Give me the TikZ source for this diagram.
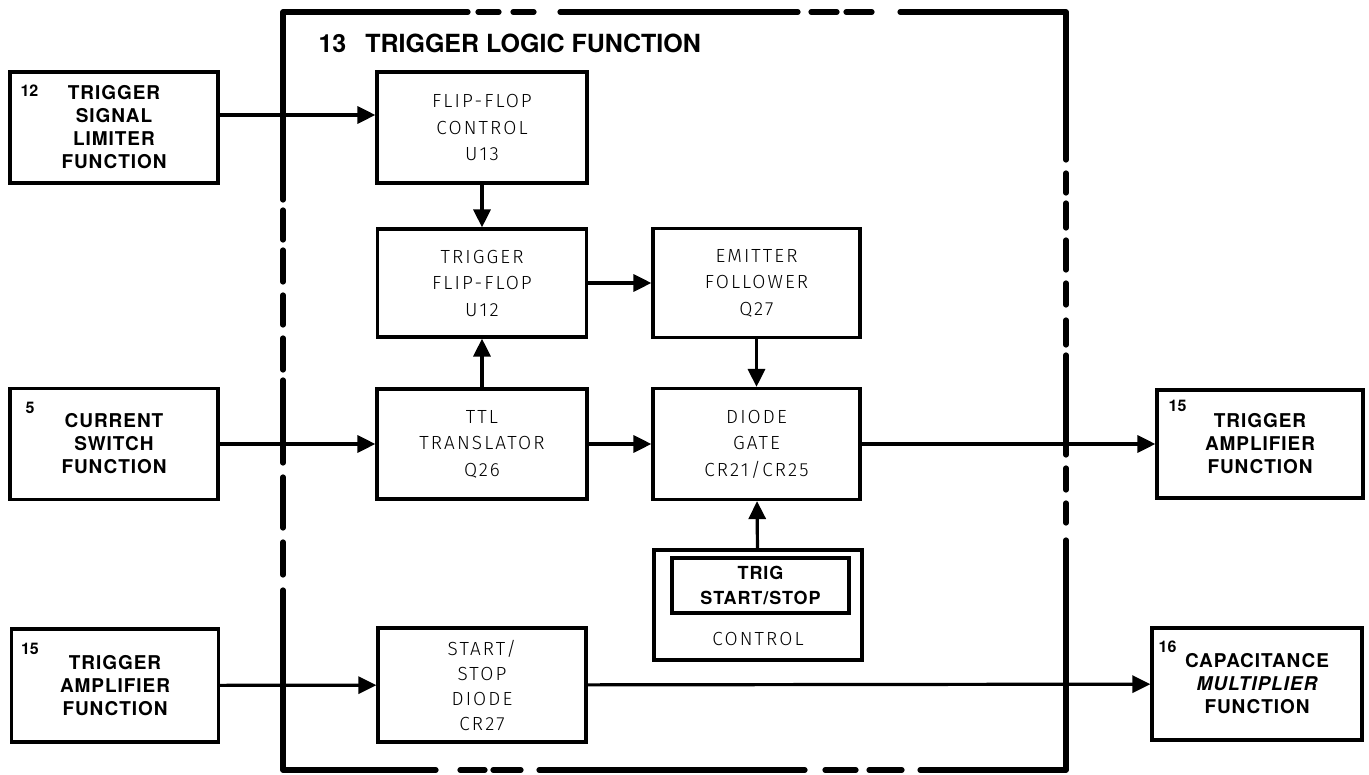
\documentclass[tikz,border=0pt]{standalone}
\usepackage{fontspec}
\usetikzlibrary{arrows.meta}
\newfontfamily\fnfont{TeX Gyre Heros}[LetterSpace=5]
\newfontfamily\titlefont{TeX Gyre Heros}
\newfontfamily\blkfont{Fira Sans Light}[LetterSpace=11]

\tikzset{
	fnbox/.style={draw, line width=3.2pt, align=center, inner sep=0pt,
		font=\fnfont\bfseries\fontsize{19}{23}\selectfont},
	blk/.style={draw, line width=3.2pt, align=center, inner sep=0pt,
		font=\blkfont\fontsize{19}{26.5}\selectfont},
	num/.style={anchor=north west, inner sep=0pt, font=\titlefont\bfseries\fontsize{16}{16}\selectfont},
	conn/.style={line width=3.2pt, -{Triangle[length=18pt,width=17pt]}},
	frame/.style={line width=5.2pt, line cap=round, line join=round}
}

\begin{document}
\begin{tikzpicture}[x=1pt, y=-1pt]
			%%%%% START %%%%%
			\useasboundingbox (0,0) rectangle (1369,775);
			
			% dashed outline of function 13
			\draw[frame] (283,200) -- (283,12) -- (468,12) (478,12) -- (499,12) (513,12) -- (534,12)
				(560,12) -- (798,12) (811,12) -- (837,12) (846,12) -- (872,12) (900,12) -- (1066,12) -- (1066,160);
			\draw[frame] (1066,173) -- (1066,193) (1066,203) -- (1066,228) (1066,240) -- (1066,270)
				(1066,283) -- (1066,305) (1066,320) -- (1066,345) (1066,355) -- (1066,455)
				(1066,468) -- (1066,490) (1066,503) -- (1066,523);
			\draw[frame] (1066,540) -- (1066,770) -- (920,770) (902,770) -- (869,770) (856,770) -- (825,770)
				(805,770) -- (539,770) (521,770) -- (493,770) (485,770) -- (460,770) (436,770) -- (283,770) -- (283,590);
			\draw[frame] (283,210) -- (283,240) (283,250) -- (283,282) (283,295) -- (283,325) (283,338) -- (283,370)
				(283,380) -- (283,463) (283,477) -- (283,528) (283,542) -- (283,575);
			
			\node[anchor=base west, font=\titlefont\bfseries\fontsize{25}{25}\selectfont] (title) at (315,53)
				{13\hspace{12pt} TRIGGER LOGIC FUNCTION};
			
			% functions outside
			\node[fnbox, minimum width=208pt, minimum height=111pt,
				label={[num, xshift=12pt, yshift=-14pt]north west:12}] (lim) at (114,127.5)
				{TRIGGER\\SIGNAL\\LIMITER\\FUNCTION};
			\node[fnbox, minimum width=208pt, minimum height=111pt,
				label={[num, xshift=17pt, yshift=-15pt]north west:5}] (cur) at (114,444)
				{CURRENT\\SWITCH\\FUNCTION};
			\node[fnbox, minimum width=207pt, minimum height=113pt,
				label={[num, xshift=11pt, yshift=-16pt]north west:15}] (amp) at (115,685.5)
				{TRIGGER\\AMPLIFIER\\FUNCTION};
			\node[fnbox, minimum width=206pt, minimum height=108pt,
				label={[num, xshift=13pt, yshift=-12pt]north west:15}] (tamp) at (1260,444)
				{TRIGGER\\AMPLIFIER\\FUNCTION};
			\node[fnbox, minimum width=210pt, minimum height=112pt,
				label={[num, xshift=8pt, yshift=-14pt]north west:16}] (capm) at (1257,684)
				{CAPACITANCE\\\itshape MULTIPLIER\\FUNCTION};
			
			% blocks inside
			\node[blk, minimum width=210pt, minimum height=111pt] (ffc) at (482,127.5) {FLIP-FLOP\\CONTROL\\U13};
			\node[blk, minimum width=209pt, minimum height=108pt] (tff) at (482,283) {TRIGGER\\FLIP-FLOP\\U12};
			\node[blk, minimum width=207pt, minimum height=109pt] (ef) at (756.5,283) {EMITTER\\FOLLOWER\\Q27};
			\node[blk, minimum width=210pt, minimum height=110pt] (ttl) at (482,444) {TTL\\TRANSLATOR\\Q26};
			\node[blk, minimum width=207pt, minimum height=111pt] (dg) at (756.5,444) {DIODE\\GATE\\CR21/CR25};
			\node[blk, minimum width=208pt, minimum height=114pt, font=\blkfont\fontsize{19}{25}\selectfont] (ssd) at (482,685)
				{START/\\STOP\\DIODE\\CR27};
			\node[blk, minimum width=208pt, minimum height=110pt] (ctl) at (758,605) {};
			\node[draw, line width=4.6pt, minimum width=177pt, minimum height=55pt, align=center, inner sep=0pt,
				font=\fnfont\bfseries\fontsize{18}{25}\selectfont] (trig) at (760.5,585.5) {TRIG\\START/STOP};
			\node[font=\blkfont\fontsize{19}{19}\selectfont, inner sep=0pt] (ctltxt) at (758,638.5) {CONTROL};
			
			% signal paths
			\draw[conn] ([yshift=12.5pt]lim.east) -- ([yshift=12.5pt]ffc.west);
			\draw[conn] (ffc) -- (tff);
			\draw[conn] (ttl) -- (tff);
			\draw[conn] (tff) -- (ef);
			\draw[conn] (ef) -- (dg);
			\draw[conn] (cur) -- (ttl);
			\draw[conn] (ttl) -- (dg);
			\draw[conn] (ctl) -- (dg);
			\draw[conn] (dg) -- (tamp);
			\draw[conn] (amp) -- (ssd);
			\draw[conn] (ssd) -- (capm);
			
			%%%%% END %%%%%
\end{tikzpicture}
\end{document}
